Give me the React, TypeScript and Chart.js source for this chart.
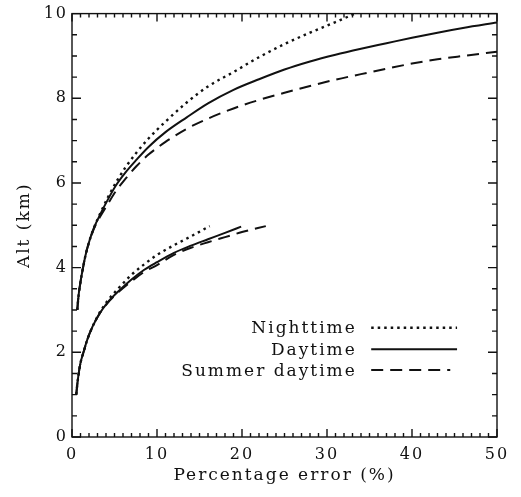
import React, { useEffect, useRef } from "react";
import { Chart, registerables } from "chart.js";

Chart.register(...registerables);

// ---- Data (percentage error vs altitude) ----
const nightUpperX = [0.62, 0.75, 0.95, 1.25, 1.6, 2.0, 2.6, 3.3, 4.2, 5.2, 6.3, 7.6, 9.0, 11.0, 13.5, 16.0, 19.0, 22.0, 25.0, 28.0, 31.0, 33.3];
const nightUpperAlt = [3.0, 3.3, 3.6, 3.95, 4.3, 4.6, 4.95, 5.27, 5.65, 6.02, 6.37, 6.72, 7.05, 7.45, 7.9, 8.28, 8.62, 8.97, 9.28, 9.55, 9.8, 10.0];

const dayUpperX = [0.62, 0.75, 0.95, 1.25, 1.6, 2.0, 2.6, 3.3, 4.2, 5.2, 6.3, 7.6, 9.0, 11.0, 13.5, 16.0, 19.0, 22.0, 25.0, 28.0, 31.0, 34.0, 37.0, 40.0, 43.0, 46.0, 50.0];
const dayUpperAlt = [3.0, 3.3, 3.6, 3.95, 4.3, 4.6, 4.95, 5.25, 5.6, 5.95, 6.25, 6.55, 6.85, 7.2, 7.55, 7.88, 8.2, 8.45, 8.68, 8.87, 9.03, 9.17, 9.3, 9.43, 9.55, 9.66, 9.79];

const summerUpperX = [0.62, 0.75, 0.95, 1.25, 1.6, 2.0, 2.6, 3.3, 4.2, 5.2, 6.3, 7.6, 9.0, 11.0, 13.5, 16.0, 19.0, 22.0, 25.0, 28.0, 31.0, 34.0, 37.0, 40.0, 43.0, 46.0, 50.0];
const summerUpperAlt = [3.0, 3.3, 3.6, 3.95, 4.3, 4.6, 4.93, 5.2, 5.5, 5.82, 6.1, 6.4, 6.67, 6.97, 7.28, 7.52, 7.76, 7.96, 8.13, 8.29, 8.44, 8.57, 8.7, 8.82, 8.92, 9.0, 9.1];

const nightLowerX = [0.5, 0.6, 0.75, 1.0, 1.35, 1.8, 2.4, 3.2, 4.2, 5.5, 7.0, 8.5, 10.0, 12.0, 14.0, 16.2];
const nightLowerAlt = [1.0, 1.2, 1.45, 1.75, 2.0, 2.3, 2.6, 2.92, 3.22, 3.52, 3.83, 4.08, 4.3, 4.53, 4.74, 4.98];

const dayLowerX = [0.5, 0.6, 0.75, 1.0, 1.35, 1.8, 2.4, 3.2, 4.2, 5.5, 7.0, 8.5, 10.0, 12.0, 14.0, 16.0, 18.0, 19.9];
const dayLowerAlt = [1.0, 1.2, 1.45, 1.75, 2.0, 2.3, 2.6, 2.9, 3.18, 3.45, 3.72, 3.95, 4.13, 4.35, 4.52, 4.67, 4.82, 4.97];

const summerLowerX = [0.5, 0.6, 0.75, 1.0, 1.35, 1.8, 2.4, 3.2, 4.2, 5.5, 7.0, 8.5, 10.0, 12.0, 14.0, 16.0, 18.0, 20.0, 22.8];
const summerLowerAlt = [1.0, 1.2, 1.45, 1.75, 2.0, 2.3, 2.6, 2.9, 3.17, 3.43, 3.68, 3.9, 4.06, 4.3, 4.47, 4.6, 4.72, 4.84, 4.98];

const legendLabels = ["Nighttime", "Daytime", "Summer daytime"];
const xTickValues = [0, 10, 20, 30, 40, 50];
const yTickValues = [0, 2, 4, 6, 8, 10];

const FONT = "'DejaVu Serif', serif";
const INK = "#111111";
const DOT = [2.5, 4];
const DASH = [12, 7];

const pts = (xs: number[], ys: number[]) => xs.map((x, i) => ({ x, y: ys[i] }));

const frameTicks = {
  id: "frameTicks",
  beforeDraw(chart: any) {
    (chart.ctx as any).letterSpacing = "2px";
  },
  afterDatasetsDraw(chart: any) {
    const { ctx, chartArea: a, scales } = chart;
    const xs = scales.x;
    const ys = scales.y;
    ctx.save();
    ctx.strokeStyle = INK;
    ctx.lineWidth = 1.4;
    ctx.strokeRect(a.left, a.top, a.right - a.left, a.bottom - a.top);
    ctx.beginPath();
    for (let v = 0; v <= 50; v += 1) {
      const p = xs.getPixelForValue(v);
      const len = v % 10 === 0 ? 8 : 4;
      ctx.moveTo(p, a.bottom);
      ctx.lineTo(p, a.bottom - len);
      ctx.moveTo(p, a.top);
      ctx.lineTo(p, a.top + len);
    }
    for (let k = 0; k <= 20; k += 1) {
      const v = k * 0.5;
      const p = ys.getPixelForValue(v);
      const len = k % 4 === 0 ? 9 : 5;
      ctx.moveTo(a.left, p);
      ctx.lineTo(a.left + len, p);
      ctx.moveTo(a.right, p);
      ctx.lineTo(a.right - len, p);
    }
    ctx.stroke();

    // legend
    const styles = [DOT, [], DASH];
    const widths = [2.4, 2, 2];
    const legY = [2.58, 2.07, 1.58];
    const textX = xs.getPixelForValue(33.5);
    const l0 = xs.getPixelForValue(35.2);
    const l1 = [xs.getPixelForValue(45.3), xs.getPixelForValue(45.3), xs.getPixelForValue(44.5)];
    ctx.font = `17px ${FONT}`;
    ctx.letterSpacing = "2px";
    ctx.fillStyle = INK;
    ctx.textAlign = "right";
    ctx.textBaseline = "middle";
    legendLabels.forEach((lab, i) => {
      const y = ys.getPixelForValue(legY[i]);
      ctx.fillText(lab, textX, y + 1);
      ctx.beginPath();
      ctx.setLineDash(styles[i]);
      ctx.lineWidth = widths[i];
      ctx.moveTo(l0, y);
      ctx.lineTo(l1[i], y);
      ctx.stroke();
    });
    ctx.restore();
  },
};

export default function App() {
  const ref = useRef<HTMLCanvasElement | null>(null);
  useEffect(() => {
    if (!ref.current) return;
    const mk = (data: any[], dash: number[], w: number) => ({
      data,
      borderColor: INK,
      borderWidth: w,
      borderDash: dash,
      pointRadius: 0,
      fill: false,
      cubicInterpolationMode: "monotone" as const,
    });
    const chart = new Chart(ref.current, {
      type: "line",
      data: {
        datasets: [
          mk(pts(nightUpperX, nightUpperAlt), DOT, 2.4),
          mk(pts(dayUpperX, dayUpperAlt), [], 2),
          mk(pts(summerUpperX, summerUpperAlt), DASH, 2),
          mk(pts(nightLowerX, nightLowerAlt), DOT, 2.4),
          mk(pts(dayLowerX, dayLowerAlt), [], 2),
          mk(pts(summerLowerX, summerLowerAlt), DASH, 2),
        ],
      },
      options: {
        animation: false,
        responsive: false,
        layout: { padding: { top: 12, right: 24, left: 0, bottom: 0 } },
        plugins: { legend: { display: false }, tooltip: { enabled: false } },
        scales: {
          x: {
            type: "linear",
            min: 0,
            max: 50,
            afterBuildTicks: (s: any) => {
              s.ticks = xTickValues.map((v) => ({ value: v }));
            },
            afterFit: (s: any) => {
              s.height = 60;
            },
            grid: { display: false, drawTicks: false },
            border: { display: false },
            ticks: { color: INK, padding: 8, font: { family: FONT, size: 16 }, maxRotation: 0 },
            title: {
              display: true,
              text: "Percentage error (%)",
              color: INK,
              font: { family: FONT, size: 17 },
              padding: { top: 0, bottom: 11 },
            },
          },
          y: {
            type: "linear",
            min: 0,
            max: 10,
            afterBuildTicks: (s: any) => {
              s.ticks = yTickValues.map((v) => ({ value: v }));
            },
            afterFit: (s: any) => {
              s.width = 72;
            },
            grid: { display: false, drawTicks: false },
            border: { display: false },
            ticks: { color: INK, padding: 4, font: { family: FONT, size: 16 } },
            title: {
              display: true,
              text: "Alt (km)",
              color: INK,
              font: { family: FONT, size: 17 },
              padding: { top: 14, bottom: 0 },
            },
          },
        },
      },
      plugins: [frameTicks],
    });
    return () => chart.destroy();
  }, []);
  return (
    <div style={{ position: "absolute", left: 0, top: 0, width: 521, height: 497, background: "#fff" }}>
      <canvas ref={ref} width={521} height={497} style={{ width: 521, height: 497 }} />
    </div>
  );
}
